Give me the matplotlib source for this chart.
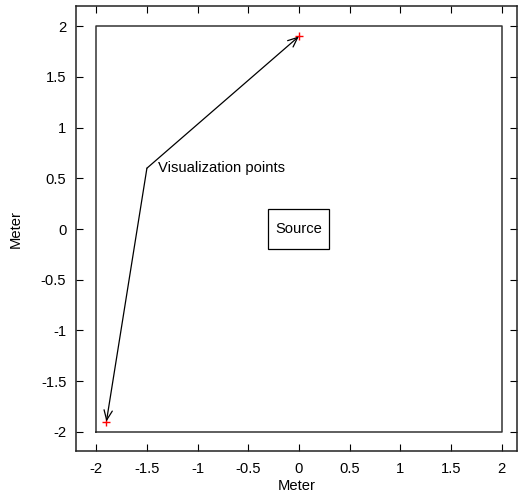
import matplotlib
matplotlib.use("Agg")
import matplotlib.pyplot as plt
from matplotlib.patches import Rectangle

plt.rcParams['font.family'] = ['Liberation Sans', 'DejaVu Sans']

# Room boundary (square) and tick positions
room_x = [-2, 2, 2, -2, -2]
room_y = [-2, -2, 2, 2, -2]
ticks = [-2, -1.5, -1, -0.5, 0, 0.5, 1, 1.5, 2]
tick_labels = ['-2', '-1.5', '-1', '-0.5', '0', '0.5', '1', '1.5', '2']

# Visualization points
vis_x = [0.0, -1.9]
vis_y = [1.9, -1.9]
label_anchor = (-1.5, 0.6)

# Source box (centre and half sizes)
source_center = (0.0, 0.0)
source_half = (0.3, 0.2)

fig = plt.figure(figsize=(5.18, 4.95), dpi=100)
ax = fig.add_axes([76 / 518, 1 - 451 / 495, (516.7 - 76) / 518, (451 - 6) / 495])

ax.plot(room_x, room_y, color='#333333', lw=1.1)

ax.add_patch(Rectangle((source_center[0] - source_half[0], source_center[1] - source_half[1]),
                       2 * source_half[0], 2 * source_half[1],
                       fill=False, edgecolor='black', lw=0.9))
ax.text(source_center[0], source_center[1], 'Source', ha='center', va='center', fontsize=10.6)

for px, py in zip(vis_x, vis_y):
    ax.annotate('', xy=(px, py), xytext=label_anchor,
                arrowprops=dict(arrowstyle='->,head_length=0.7,head_width=0.3',
                                color='black', lw=0.9, shrinkA=0, shrinkB=0))
ax.plot(vis_x, vis_y, '+', color='red', ms=6, mew=1)
ax.text(label_anchor[0] + 0.11, label_anchor[1], 'Visualization points',
        ha='left', va='center', fontsize=10.6)

ax.set_xlim(-2.2, 2.15)
ax.set_ylim(-2.19, 2.2)
ax.set_xticks(ticks)
ax.set_xticklabels(tick_labels)
ax.set_yticks(ticks)
ax.set_yticklabels(tick_labels)
ax.tick_params(direction='in', top=True, right=True, length=5, width=0.8,
               labelsize=10.6, colors='black')
ax.tick_params(axis='x', pad=8)
ax.tick_params(axis='y', pad=7)
for s in ax.spines.values():
    s.set_color('#222222')
    s.set_linewidth(1.1)

ax.set_xlabel('Meter', fontsize=10.6, labelpad=2)
ax.set_ylabel('Meter', fontsize=10.6, labelpad=13)

fig.savefig('out.png', dpi=100)
